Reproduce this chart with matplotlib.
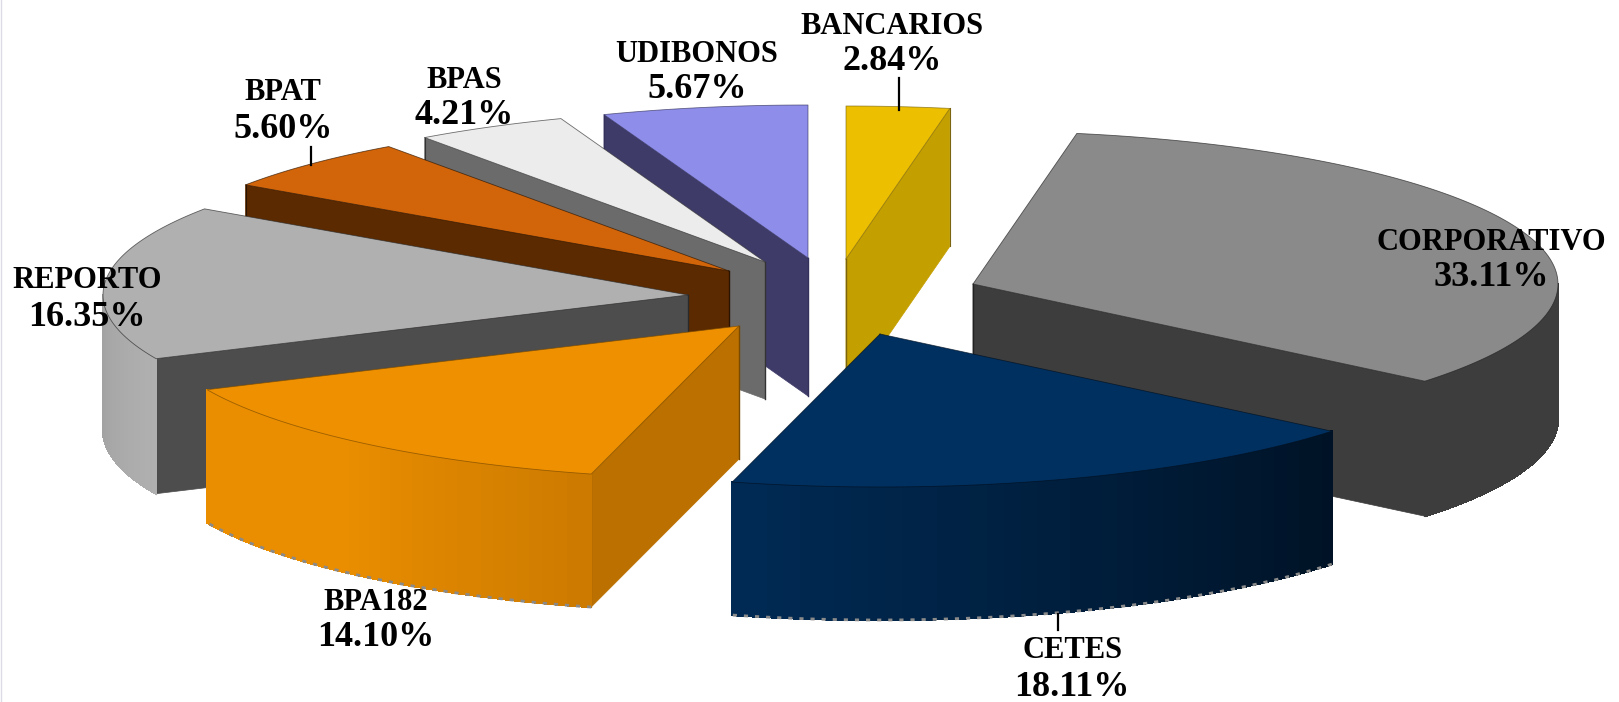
import numpy as np
import matplotlib
matplotlib.use("Agg")
import matplotlib.pyplot as plt
from matplotlib.colors import to_rgb

# values clockwise from the top of the pie
names = ["BANCARIOS", "CORPORATIVO", "CETES", "BPA182", "REPORTO", "BPAT", "BPAS", "UDIBONOS"]
shares = [2.84, 33.11, 18.11, 14.10, 16.35, 5.60, 4.21, 5.67]

# pie geometry in image pixels
RX, RY = 585, 153
depth = {"BANCARIOS": 138, "CORPORATIVO": 135, "CETES": 133, "BPA182": 133,
         "REPORTO": 135, "BPAT": 133, "BPAS": 137, "UDIBONOS": 138}
apex = {"BANCARIOS": (846, 259), "CORPORATIVO": (973, 284), "CETES": (880, 334),
        "BPA182": (739, 326), "REPORTO": (688, 295), "BPAT": (729, 271),
        "BPAS": (765, 262), "UDIBONOS": (808, 258)}

# top, cut face, wall at the left, wall at the right, edge
colors = {"BANCARIOS": ("#ecbf00", "#c49f00", "#c49f00", "#c49f00", "#7a6410"),
          "CORPORATIVO": ("#8a8a8a", "#3d3d3d", "#3d3d3d", "#3d3d3d", "#222222"),
          "CETES": ("#003060", "#002a54", "#002a54", "#001326", "#001020"),
          "BPA182": ("#ee9000", "#bb7000", "#ea8e00", "#cc7a00", "#7a4a00"),
          "REPORTO": ("#b0b0b0", "#4d4d4d", "#a2a2a2", "#b0b0b0", "#2a2a2a"),
          "BPAT": ("#d2640a", "#5c2a00", "#5c2a00", "#5c2a00", "#2a1400"),
          "BPAS": ("#ececec", "#6b6b6b", "#6b6b6b", "#6b6b6b", "#333333"),
          "UDIBONOS": ("#8e8eea", "#3e3b68", "#3e3b68", "#3e3b68", "#34325c")}

paint_order = ["UDIBONOS", "BPAS", "BPAT", "REPORTO", "BANCARIOS", "CORPORATIVO", "BPA182", "CETES"]

# label centres and leader lines
label_pos = {"BANCARIOS": (892, 42), "CORPORATIVO": (1491, 258), "CETES": (1072, 667),
             "BPA182": (376, 618), "REPORTO": (87, 297), "BPAT": (283, 109),
             "BPAS": (464, 96), "UDIBONOS": (697, 70)}
leaders = {"BANCARIOS": (899, 78, 110), "BPAT": (311, 147, 165), "CETES": (1058, 614, 630)}

fig = plt.figure(figsize=(16.19, 7.02), dpi=100)
ax = fig.add_axes([0, 0, 1, 1])
ax.set_xlim(0, 1619)
ax.set_ylim(702, 0)
ax.axis("off")


def rim(name, a):
    cx, cy = apex[name]
    return cx + RX * np.sin(a), cy - RY * np.cos(a)


ends = np.cumsum(shares) / np.sum(shares) * 2 * np.pi
starts = np.concatenate([[0], ends[:-1]])
spans = dict(zip(names, zip(starts, ends)))

for z, name in enumerate(paint_order):
    a0, a1 = spans[name]
    top, face, wall_l, wall_r, edge = colors[name]
    cx, cy = apex[name]
    h = depth[name]
    zb = z * 10

    # cut faces that look towards the viewer
    for a, visible in ((a0, np.sin(a0) < -1e-6), (a1, np.sin(a1) > 1e-6)):
        if visible:
            x, y = rim(name, a)
            ax.fill([cx, x, x, cx], [cy, y, y + h, cy + h], color=face, lw=0.5, zorder=zb)
            ax.plot([cx, cx], [cy, cy + h], color=edge, lw=1, zorder=zb + 1)
            ax.plot([x, x], [y, y + h], color=edge, lw=0.8, zorder=zb + 1)

    # outer wall on the front half, shaded strip by strip
    w0, w1 = max(a0, np.pi / 2), min(a1, 3 * np.pi / 2)
    if w1 > w0:
        steps = np.linspace(w0, w1, 40)
        ramp = 1.8 if name == "BPA182" else 1.0
        for i in range(len(steps) - 1):
            t = min(1, ramp * i / (len(steps) - 2))
            c = t * np.array(to_rgb(wall_l)) + (1 - t) * np.array(to_rgb(wall_r))
            xa, ya = rim(name, steps[i])
            xb, yb = rim(name, steps[i + 1])
            ax.fill([xa, xb, xb, xa], [ya, yb, yb + h, ya + h], color=c, lw=1,
                    antialiased=False, zorder=zb + 2)
        xs, ys = rim(name, steps)
        if name in ("BPA182", "CETES"):
            ax.plot(xs, ys + h, color="#8a8a8a", lw=2, ls=(0, (1.5, 2.5)), zorder=zb + 3)

    # top of the slice
    arc = np.linspace(a0, a1, 120)
    xs, ys = rim(name, arc)
    ax.fill(np.r_[cx, xs], np.r_[cy, ys], color=top, lw=0, zorder=zb + 4)
    ax.plot(np.r_[cx, xs, cx], np.r_[cy, ys, cy], color=edge, lw=0.6, alpha=0.7, zorder=zb + 5)

# the name and the percentage are set at different sizes
for name, share in zip(names, shares):
    x, y = label_pos[name]
    ax.text(x, y - 16, name, ha="center", va="center", family="Liberation Serif",
            weight="bold", fontsize=22, color="black", zorder=200)
    ax.text(x, y + 20, f"{share:.2f}%", ha="center", va="center", family="Liberation Serif",
            weight="bold", fontsize=26, color="black", zorder=200)

for name, (x, y0, y1) in leaders.items():
    ax.plot([x, x], [y0, y1], color="black", lw=1.6, zorder=201)

ax.plot([0.5, 0.5], [0, 702], color="#dcdce6", lw=1, zorder=0)

fig.savefig("out.png", dpi=100, facecolor="white")
